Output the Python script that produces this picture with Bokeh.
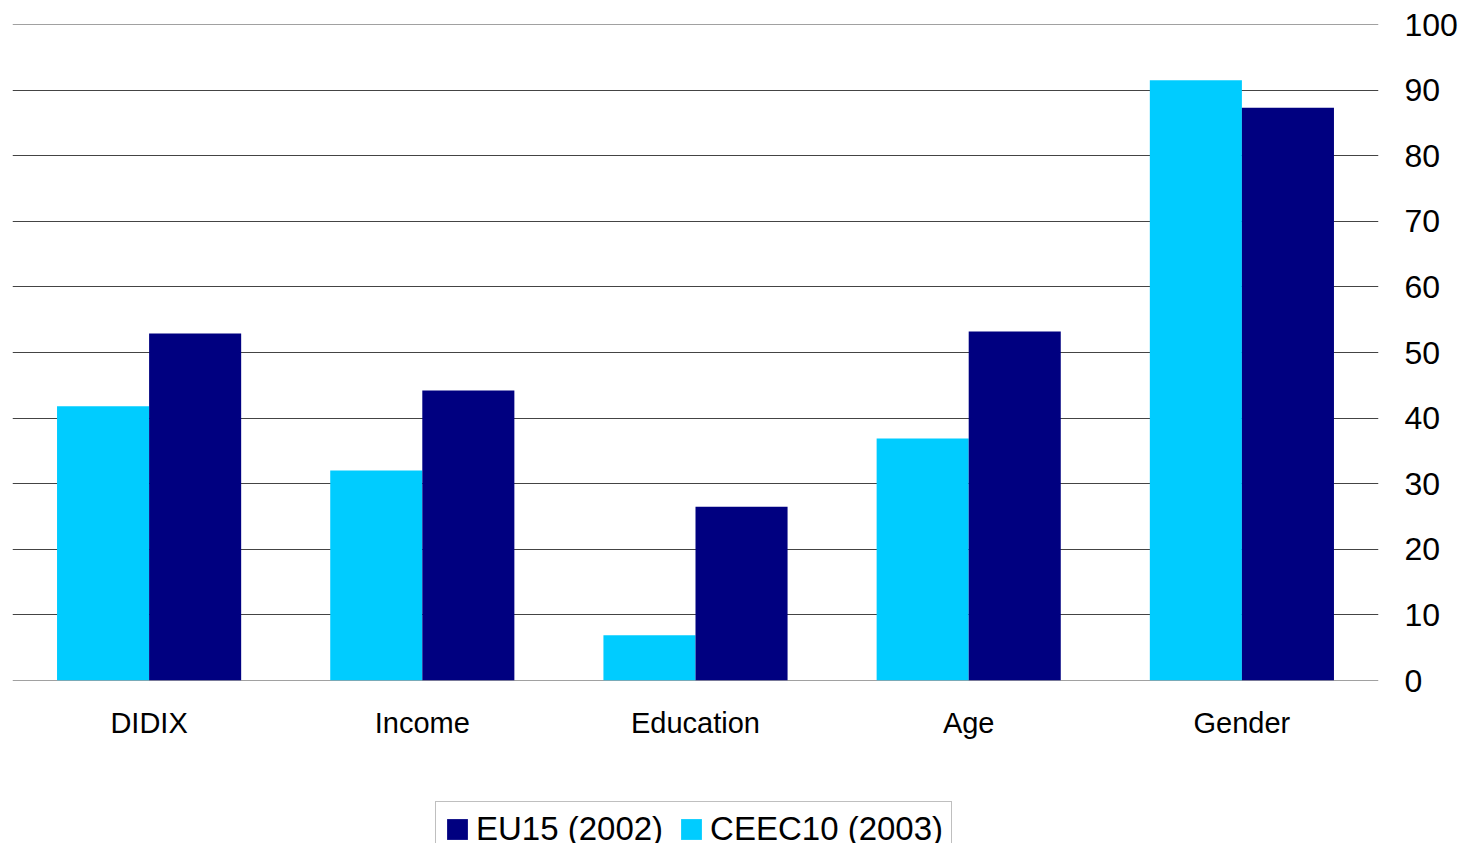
from bokeh.plotting import figure
from bokeh.layouts import column
from bokeh.models import FactorRange, Range1d, Legend, LegendItem, ColumnDataSource, FixedTicker, Span
from bokeh.transform import dodge
from bokeh.embed import file_html
from bokeh.resources import INLINE

# Category labels and series values (percent)
categories = ["DIDIX", "Income", "Education", "Age", "Gender"]
eu15_2002 = [52.9, 44.2, 26.5, 53.2, 87.3]
ceec10_2003 = [41.8, 32.0, 6.9, 36.9, 91.5]
y_ticks = [0, 10, 20, 30, 40, 50, 60, 70, 80, 90, 100]
series_labels = ["EU15 (2002)", "CEEC10 (2003)"]

source = ColumnDataSource(data=dict(cat=categories, eu=eu15_2002, ceec=ceec10_2003))

FONT = "Liberation Sans"
NAVY = "#000080"
CYAN = "#00CCFF"
GRID = "#444444"

# Main chart
p = figure(
    x_range=FactorRange(*categories, range_padding=0),
    y_range=Range1d(y_ticks[0], y_ticks[-1]),
    width=1468, height=760,
    min_border_left=12, min_border_top=24, min_border_right=90, min_border_bottom=80,
    y_axis_location="right",
    output_backend="svg", toolbar_location=None,
)
p.outline_line_color = None
p.background_fill_color = "white"
p.border_fill_color = "white"

bar_w = 0.337
p.vbar(x=dodge("cat", -bar_w / 2, range=p.x_range), top="ceec", width=bar_w,
       source=source, fill_color=CYAN, line_color=None)
p.vbar(x=dodge("cat", bar_w / 2, range=p.x_range), top="eu", width=bar_w,
       source=source, fill_color=NAVY, line_color=None)

# Grid (the grid skips the range ends, so those two lines are drawn as spans)
p.xgrid.grid_line_color = None
p.ygrid.ticker = FixedTicker(ticks=y_ticks)
p.ygrid.grid_line_color = GRID
p.ygrid.grid_line_width = 1
for edge in (y_ticks[0], y_ticks[-1]):
    p.add_layout(Span(location=edge, dimension="width", line_color=GRID,
                      line_width=1, level="underlay"))

# Value axis on the right
yax = p.yaxis[0]
yax.ticker = FixedTicker(ticks=y_ticks)
yax.axis_line_color = None
yax.major_tick_line_color = None
yax.minor_tick_line_color = None
yax.major_label_standoff = 20
yax.major_label_text_font = FONT
yax.major_label_text_font_size = "32px"
yax.major_label_text_color = "black"

# Category axis
xax = p.xaxis[0]
xax.axis_line_color = None
xax.major_tick_line_color = None
xax.minor_tick_line_color = None
xax.major_label_standoff = 20
xax.major_label_text_font = FONT
xax.major_label_text_font_size = "29px"
xax.major_label_text_color = "black"

# Legend strip underneath the chart; its key glyphs lie wholly below the visible range
lg = figure(
    width=1468, height=83,
    x_range=Range1d(0, 1), y_range=Range1d(0, 1),
    x_axis_type=None, y_axis_type=None,
    min_border_left=0, min_border_right=0, min_border_top=0, min_border_bottom=0,
    output_backend="svg", toolbar_location=None,
)
lg.outline_line_color = None
lg.xgrid.grid_line_color = None
lg.ygrid.grid_line_color = None
lg.background_fill_color = "white"
lg.border_fill_color = "white"

key_eu = lg.vbar(x=[0.5], bottom=[-3], top=[-2], width=0.1, fill_color=NAVY, line_color=None)
key_ceec = lg.vbar(x=[0.5], bottom=[-3], top=[-2], width=0.1, fill_color=CYAN, line_color=None)

legend = Legend(
    items=[LegendItem(label=series_labels[0], renderers=[key_eu]),
           LegendItem(label=series_labels[1], renderers=[key_ceec])],
    orientation="horizontal",
    location=(423, -14),
    label_text_font=FONT,
    label_text_font_size="33px",
    label_text_color="black",
    glyph_width=26, glyph_height=26,
    label_standoff=6,
    spacing=15,
    padding=8,
    margin=0,
    border_line_color="#7f7f7f",
    border_line_width=1,
    background_fill_color="white",
    background_fill_alpha=1,
)
lg.add_layout(legend, "center")

layout = column(p, lg, spacing=0)
open("out.html", "w").write(file_html(layout, INLINE))
